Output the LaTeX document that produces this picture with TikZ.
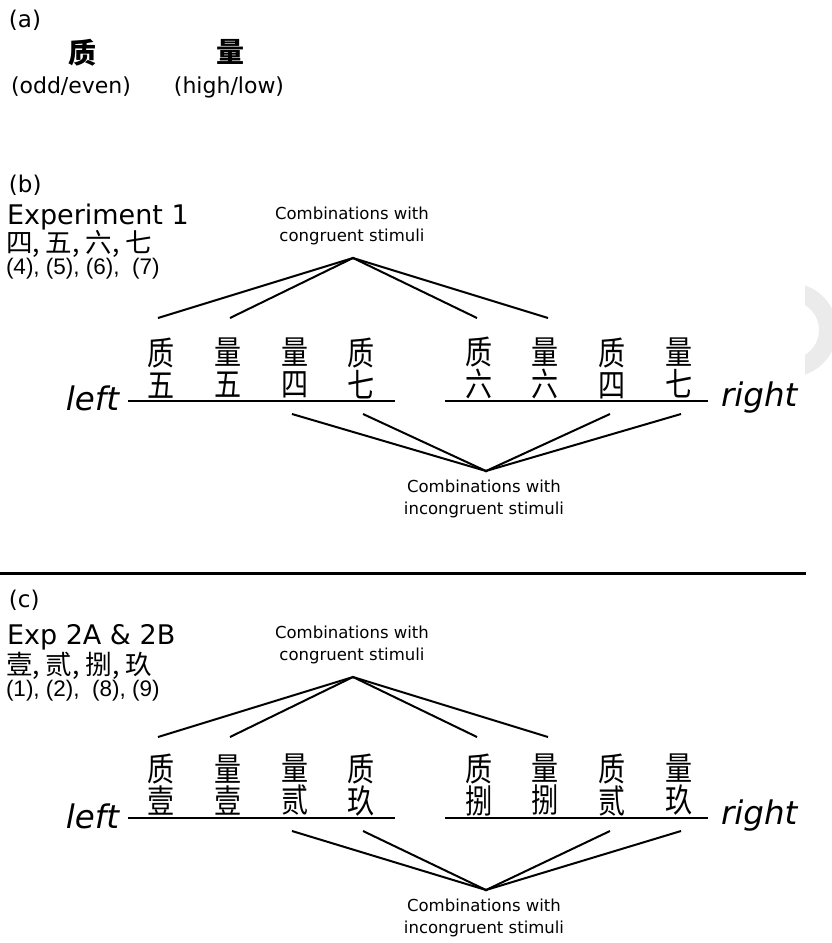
\documentclass[tikz,border=0pt]{standalone}
\usepackage{fontspec}
\setmainfont{DejaVu Sans}
\newfontfamily\cjk{Noto Sans CJK SC}
\newfontfamily\cjkn[FakeStretch=0.82]{Noto Sans CJK SC}
\newfontfamily\arialf{Liberation Sans}
\begin{document}
\begin{tikzpicture}[x=1pt,y=-1pt,
  every node/.style={inner sep=0pt, outer sep=0pt},
  plab/.style={font=\fontsize{23}{25}\selectfont, anchor=west},
  head/.style={font=\fontsize{27}{30}\selectfont, anchor=west},
  nums/.style={font=\cjk\fontsize{26.5}{28}\selectfont, anchor=west},
  arab/.style={font=\arialf\fontsize{22.5}{25}\selectfont, anchor=west},
  combo/.style={font=\fontsize{16.5}{22}\selectfont, align=center},
  pairc/.style={font=\cjkn\fontsize{33}{32}\selectfont, align=center},
  side/.style={font=\itshape\fontsize{32.5}{34}\selectfont},
  conn/.style={line width=2pt},
  base/.style={line width=2.2pt},
  apex/.style={circle, fill=black, minimum size=3pt, inner sep=0pt}
]
\useasboundingbox (0,0) rectangle (832,943);

% faint watermark at right edge
\begin{scope}
  \clip (805,260) rectangle (832,400);
  \draw[black!8, line width=18pt] (790,330) circle (38);
\end{scope}

% ---------- (a)
\node[plab] (la) at (9,20) {(a)};
\node[font=\cjk\bfseries\fontsize{28}{30}\selectfont] (zhi) at (82,53) {质};
\node[font=\cjk\bfseries\fontsize{28}{30}\selectfont] (liang) at (230,52) {量};
\node[font=\fontsize{22}{24}\selectfont] (oe) at (71,87) {(odd/even)};
\node[font=\fontsize{22}{24}\selectfont] (hl) at (229,87) {(high/low)};

% ---------- (b)
\node[plab] (lb) at (9,185) {(b)};
\node[head] (e1) at (7,217) {Experiment 1};
\node[nums] (e1c) at (6,244) {四, 五, 六, 七};
\node[arab] (e1n) at (6,269) {(4), (5), (6), \ (7)};

\node[combo] (bcon) at (352,226) {Combinations with\\congruent stimuli};
\node[apex] (bap) at (353,258) {};
\coordinate (bt1) at (158,318);
\coordinate (bt2) at (230,318);
\coordinate (bt3) at (477,318);
\coordinate (bt4) at (548,318);
\draw[conn] (bap.center) -- (bt1);
\draw[conn] (bap.center) -- (bt2);
\draw[conn] (bap.center) -- (bt3);
\draw[conn] (bap.center) -- (bt4);

\node[pairc] (b1) at (161,368) {质\\五};
\node[pairc] (b2) at (228,368) {量\\五};
\node[pairc] (b3) at (295,368) {量\\四};
\node[pairc] (b4) at (361,368) {质\\七};
\node[pairc] (b5) at (479,368) {质\\六};
\node[pairc] (b6) at (545,368) {量\\六};
\node[pairc] (b7) at (612,368) {质\\四};
\node[pairc] (b8) at (679,368) {量\\七};

\coordinate (bl1) at (128,401);
\coordinate (bl2) at (395,401);
\coordinate (br1) at (445,401);
\coordinate (br2) at (708,401);
\draw[base] (bl1) -- (bl2);
\draw[base] (br1) -- (br2);
\node[side, anchor=east] (bleft) at (119,398) {left};
\node[side, anchor=west] (bright) at (721,398) {right};

\coordinate (bb1) at (292,414);
\coordinate (bb2) at (363,414);
\coordinate (bb3) at (610,414);
\coordinate (bb4) at (681,414);
\node[apex] (bap2) at (486,471) {};
\draw[conn] (bap2.center) -- (bb1);
\draw[conn] (bap2.center) -- (bb2);
\draw[conn] (bap2.center) -- (bb3);
\draw[conn] (bap2.center) -- (bb4);
\node[combo] (binc) at (484,499) {Combinations with\\incongruent stimuli};

% separator
\coordinate (s1) at (0,573);
\coordinate (s2) at (806,573);
\draw[line width=3pt] (s1) -- (s2);

% ---------- (c)
\node[plab] (lc) at (9,600) {(c)};
\node[head] (e2) at (7,637) {Exp 2A \& 2B};
\node[nums] (e2c) at (6,666) {壹, 贰, 捌, 玖};
\node[arab] (e2n) at (6,691) {(1), (2), \ (8), (9)};

\node[combo] (ccon) at (352,645) {Combinations with\\congruent stimuli};
\node[apex] (cap) at (353,677) {};
\coordinate (ct1) at (158,737);
\coordinate (ct2) at (230,737);
\coordinate (ct3) at (477,737);
\coordinate (ct4) at (548,737);
\draw[conn] (cap.center) -- (ct1);
\draw[conn] (cap.center) -- (ct2);
\draw[conn] (cap.center) -- (ct3);
\draw[conn] (cap.center) -- (ct4);

\node[pairc] (c1) at (161,785) {质\\壹};
\node[pairc] (c2) at (228,785) {量\\壹};
\node[pairc] (c3) at (295,785) {量\\贰};
\node[pairc] (c4) at (361,785) {质\\玖};
\node[pairc] (c5) at (479,785) {质\\捌};
\node[pairc] (c6) at (545,785) {量\\捌};
\node[pairc] (c7) at (612,785) {质\\贰};
\node[pairc] (c8) at (679,785) {量\\玖};

\coordinate (cl1) at (128,818);
\coordinate (cl2) at (395,818);
\coordinate (cr1) at (445,818);
\coordinate (cr2) at (708,818);
\draw[base] (cl1) -- (cl2);
\draw[base] (cr1) -- (cr2);
\node[side, anchor=east] (cleft) at (119,816) {left};
\node[side, anchor=west] (cright) at (721,816) {right};

\coordinate (cb1) at (292,831);
\coordinate (cb2) at (363,831);
\coordinate (cb3) at (610,831);
\coordinate (cb4) at (681,831);
\node[apex] (cap2) at (486,890) {};
\draw[conn] (cap2.center) -- (cb1);
\draw[conn] (cap2.center) -- (cb2);
\draw[conn] (cap2.center) -- (cb3);
\draw[conn] (cap2.center) -- (cb4);
\node[combo] (cinc) at (484,918) {Combinations with\\incongruent stimuli};
\end{tikzpicture}
\end{document}
